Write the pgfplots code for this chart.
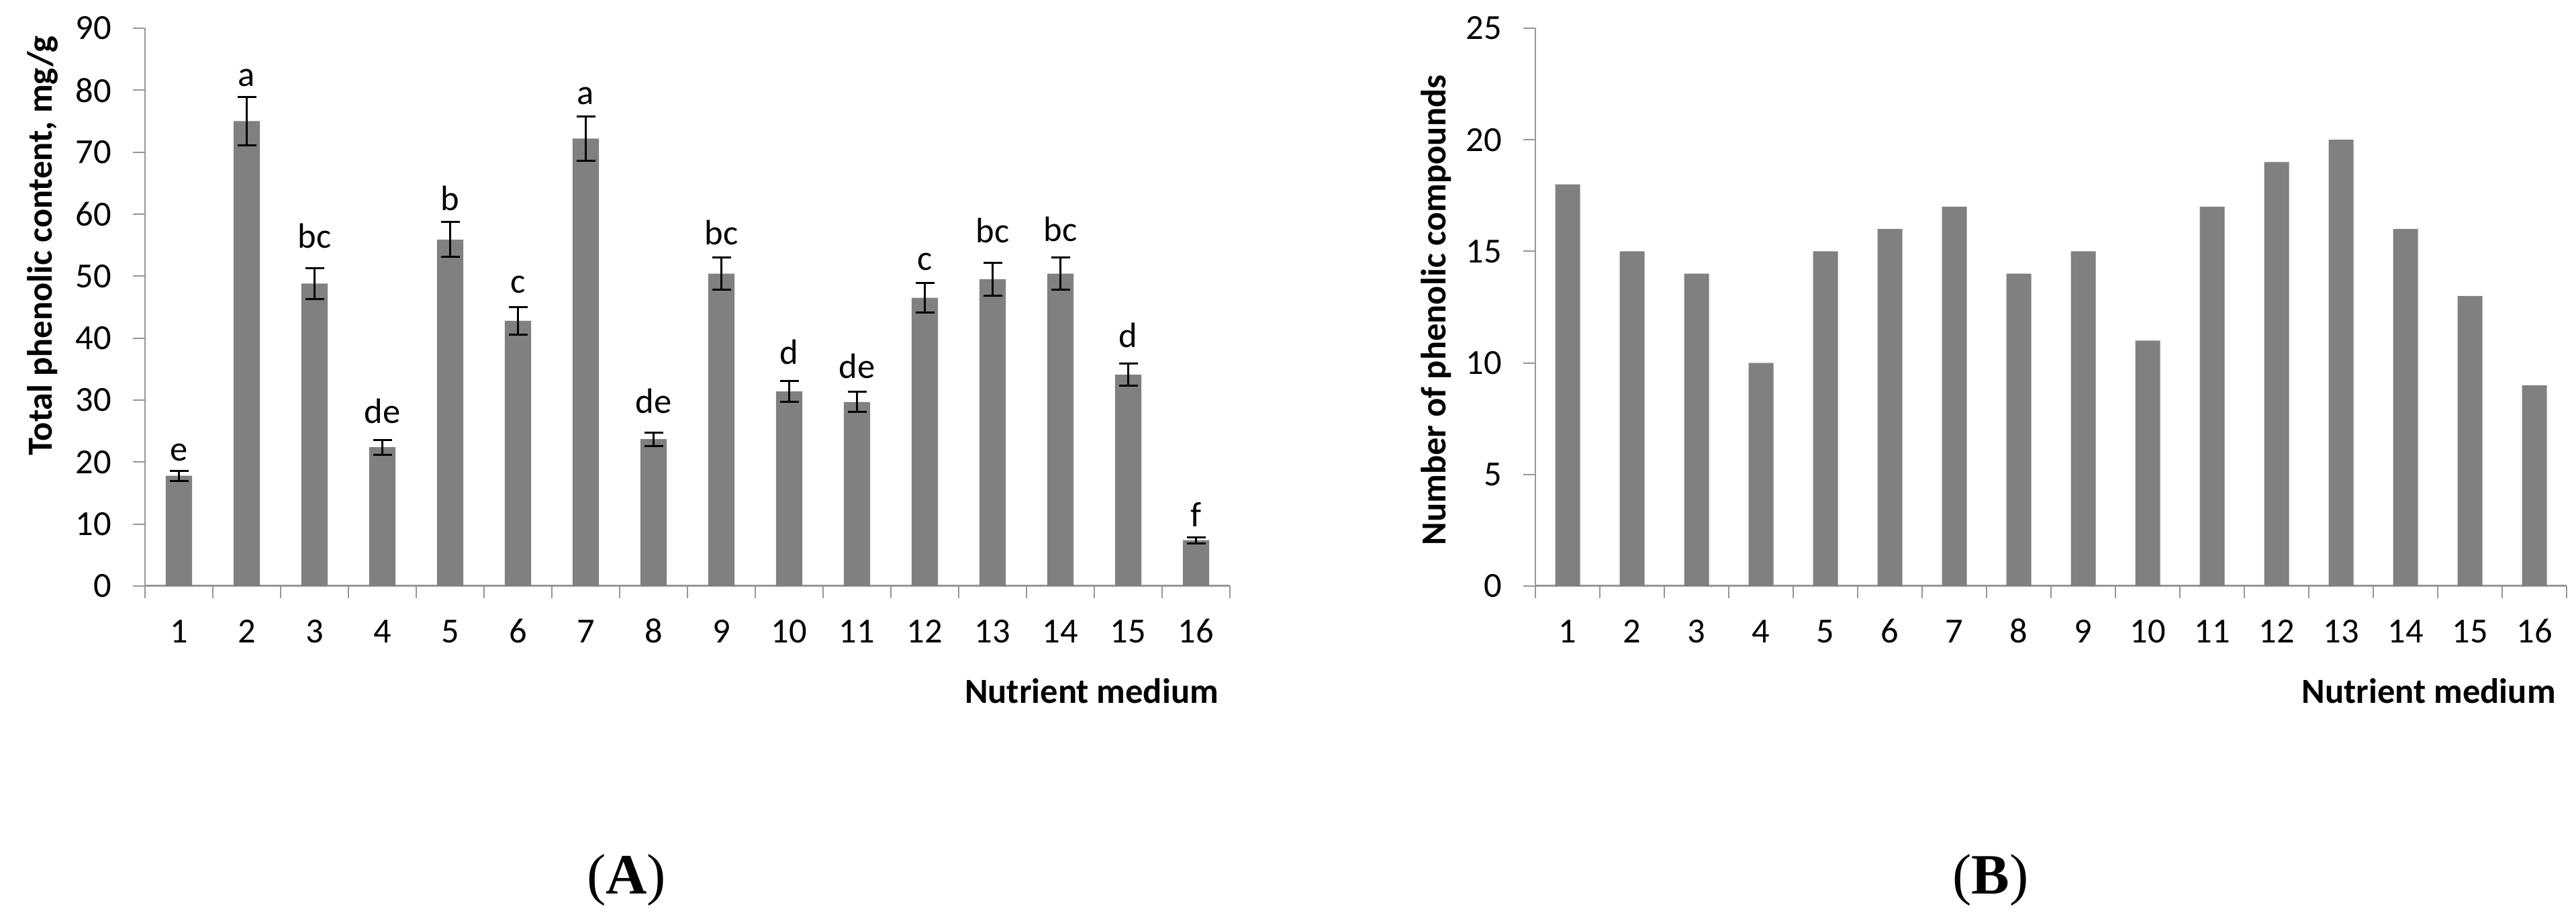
\documentclass[border=0pt]{standalone}
\usepackage{pgfplots}
\pgfplotsset{compat=1.18}
\usepackage{pgfplotstable}
\usepackage{fontspec}
\setmainfont{Carlito}
\newfontfamily\capfont{Liberation Serif}
\definecolor{bargray}{RGB}{128,128,128}
\definecolor{axisgray}{RGB}{150,150,150}

% medium, total phenolic content, SD, label height, letter
\pgfplotstableread{
x y e ly lab
1 17.8 0.8 20.1 e
2 75.0 3.9 80.5 a
3 48.8 2.5 54.4 bc
4 22.4 1.2 26.1 de
5 55.9 2.8 60.5 b
6 42.8 2.2 47.1 c
7 72.2 3.6 77.6 a
8 23.7 1.1 27.7 de
9 50.4 2.6 54.9 bc
10 31.4 1.7 35.6 d
11 29.7 1.6 33.4 de
12 46.5 2.4 50.8 c
13 49.5 2.7 55.3 bc
14 50.4 2.6 55.5 bc
15 34.1 1.8 38.3 d
16 7.4 0.5 9.5 f
}\tpc

\pgfplotstableread{
x y
1 18
2 15
3 14
4 10
5 15
6 16
7 17
8 14
9 15
10 11
11 17
12 19
13 20
14 16
15 13
16 9
}\npc

\pgfplotsset{
  mybase/.style={
    scale only axis,
    anchor=south west,
    height=166.2pt,
    xmin=0.5, xmax=16.5,
    ymin=0,
    xtick={1,...,16},
    minor xtick={0.5,1.5,...,16.5},
    axis lines*=left,
    axis line style={-},
    x axis line style={-, draw=axisgray, line width=0.6pt},
    y axis line style={-, draw=axisgray, line width=0.4pt},
    tick align=outside,
    major tick length=3.6pt,
    minor tick length=3.6pt,
    major x tick style={draw=none},
    minor x tick style={draw=axisgray, line width=0.5pt},
    major y tick style={draw=axisgray, line width=0.4pt},
    tick label style={font=\fontsize{10.5}{12}\selectfont, /pgf/number format/assume math mode=true},
    yticklabel style={anchor=east, inner sep=0pt, xshift=-6.2pt},
    xticklabel style={anchor=base, inner sep=0pt, yshift=-13.4pt},
    every axis x label/.style={at={(axis description cs:0.990,-0.2106)}, anchor=base east, inner sep=0pt, font=\bfseries\fontsize{10.5}{12}\selectfont},
    clip=false,
  }
}

\begin{document}
\begin{tikzpicture}
\useasboundingbox (0,0) rectangle (767.4pt,272.6pt);

% ---------------- (A) ----------------
\begin{axis}[mybase,
  at={(43.2pt,98pt)},
  width=323.2pt,
  ymax=90, ytick={0,10,...,90},
  xlabel={Nutrient medium},
  ylabel={Total phenolic content, mg/g},
  every axis y label/.style={at={(axis description cs:-0.086,0.610)}, rotate=90, anchor=base, inner sep=0pt, font=\bfseries\fontsize{10.5}{12}\selectfont},
]
\addplot[ybar, bar shift=0pt, bar width=7.86pt, fill=bargray, draw=none,
  error bars/.cd, y dir=both, y explicit,
  error bar style={black, line width=0.6pt},
  error mark options={black, line width=0.6pt, mark size=2.8pt, rotate=90}]
  table[x=x, y=y, y error=e] {\tpc};
\addplot[only marks, mark=*, mark size=0pt, mark options={draw=none, fill=none},
  nodes near coords, point meta=explicit symbolic,
  every node near coord/.append style={inner sep=0pt, text=black, font=\fontsize{10.5}{12}\selectfont}]
  table[x=x, y=ly, meta=lab] {\tpc};
\end{axis}

% ---------------- (B) ----------------
\begin{axis}[mybase,
  at={(457.4pt,98pt)},
  width=307.2pt,
  ymax=25, ytick={0,5,...,25},
  xlabel={Nutrient medium},
  ylabel={Number of phenolic compounds},
  every axis y label/.style={at={(axis description cs:-0.0872,0.4946)}, rotate=90, anchor=base, inner sep=0pt, font=\bfseries\fontsize{10.5}{12}\selectfont},
]
\addplot[ybar, bar shift=0pt, bar width=7.4pt, fill=bargray, draw=none]
  table[x=x, y=y] {\npc};
\end{axis}

\node[anchor=base, inner sep=0pt, font=\capfont\fontsize{17}{20}\selectfont] at (186.6pt,6.2pt) {(\textbf{A})};
\node[anchor=base, inner sep=0pt, font=\capfont\fontsize{17}{20}\selectfont] at (593pt,6.2pt) {(\textbf{B})};
\end{tikzpicture}
\end{document}
